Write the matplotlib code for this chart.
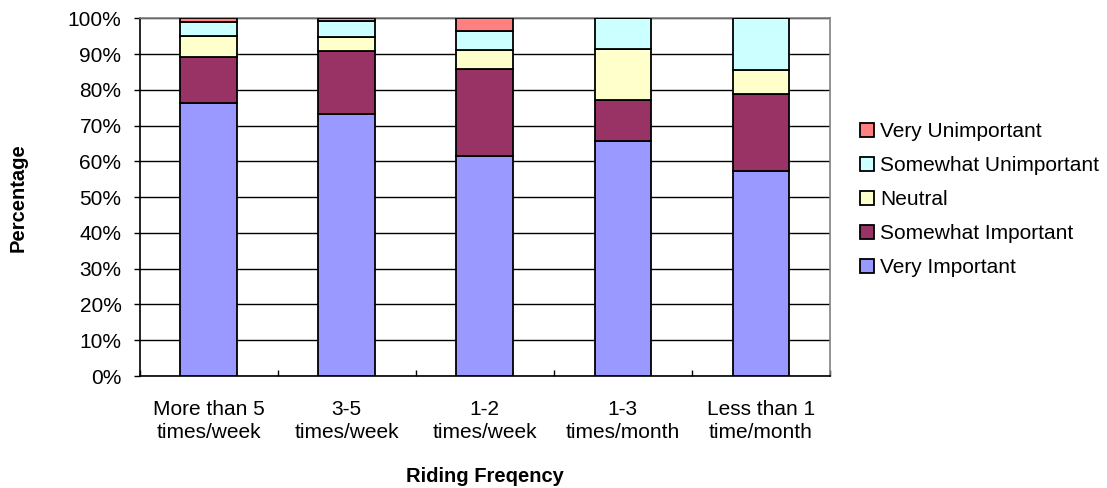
import matplotlib
matplotlib.use("Agg")
import matplotlib.pyplot as plt
import numpy as np

plt.rcParams['font.family'] = ['Liberation Sans', 'DejaVu Sans']

categories = ["More than 5\ntimes/week", "3-5\ntimes/week", "1-2\ntimes/week",
              "1-3\ntimes/month", "Less than 1\ntime/month"]
series_names = ["Very Important", "Somewhat Important", "Neutral",
                "Somewhat Unimportant", "Very Unimportant"]
very_important = [76.3, 73.2, 61.4, 65.7, 57.3]
somewhat_important = [12.9, 17.7, 24.5, 11.5, 21.4]
neutral = [5.8, 3.9, 5.3, 14.2, 6.9]
somewhat_unimportant = [4.0, 4.4, 5.3, 8.6, 14.4]
very_unimportant = [1.0, 0.8, 3.5, 0.0, 0.0]
colors = ["#9999FF", "#993366", "#FFFFCC", "#CCFFFF", "#FF8080"]

series = [very_important, somewhat_important, neutral, somewhat_unimportant, very_unimportant]

fig = plt.figure(figsize=(11.07, 4.88), dpi=100)
ax = fig.add_axes([139.5/1107, 1-376/488, (830-139.5)/1107, (376-18.3)/488])

x = np.arange(len(categories))
bottom = np.zeros(len(categories))
handles = []
for name, vals, c in zip(series_names, series, colors):
    vals = np.array(vals)
    h = ax.bar(x, vals, width=0.41, bottom=bottom, color=c, edgecolor="black",
               linewidth=1.3, label=name, zorder=3)
    handles.append(h)
    bottom += vals

ax.set_xlim(-0.5, len(categories) - 0.5)
ax.set_ylim(0, 100)
ax.set_yticks(np.arange(0, 101, 10))
ax.set_yticklabels([f"{v}%" for v in range(0, 101, 10)], fontsize=15)
ax.yaxis.grid(True, color="black", linewidth=1.0, zorder=0)
ax.set_axisbelow(True)
ax.tick_params(axis='y', direction='out', length=4, width=1, pad=9)

ax.set_xticks(np.arange(-0.5, len(categories), 1.0))
ax.set_xticklabels([])
ax.set_xticks(x, minor=True)
ax.set_xticklabels(categories, minor=True, fontsize=15, linespacing=1.3)
ax.tick_params(axis='x', which='major', direction='in', length=4, width=1)
ax.tick_params(axis='x', which='minor', length=0, pad=17)

for s in ['left', 'bottom']:
    ax.spines[s].set_color('black')
    ax.spines[s].set_linewidth(1.2)
for s in ['right', 'top']:
    ax.spines[s].set_color('#808080')
    ax.spines[s].set_linewidth(1.2)

ax.set_xlabel("Riding Freqency", fontsize=14.5, fontweight='bold', labelpad=18)
ax.set_ylabel("Percentage", fontsize=14.5, fontweight='bold', labelpad=29)

leg = fig.legend(handles[::-1], series_names[::-1], loc='upper left',
                 bbox_to_anchor=(852/1107, 1-114/488), frameon=False, fontsize=15,
                 handlelength=0.65, handleheight=0.65, handletextpad=0.3,
                 labelspacing=0.72, borderaxespad=0)

fig.savefig("out.png", dpi=100)
